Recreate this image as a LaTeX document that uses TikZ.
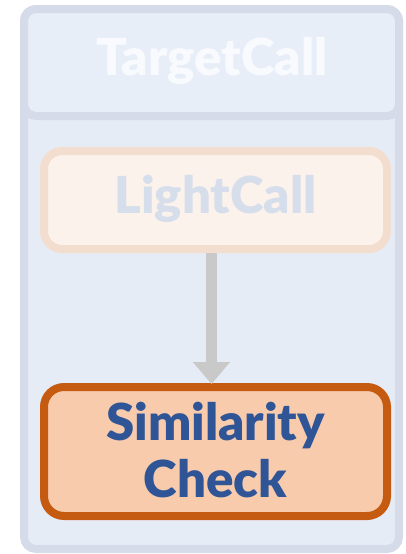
\documentclass[tikz,border=0pt]{standalone}
\usepackage{fontspec}
\setmainfont{Lato}[BoldFont={Lato Black}]
\usetikzlibrary{arrows.meta}
\definecolor{frameline}{HTML}{D5DBE8}
\definecolor{framefill}{HTML}{E6ECF6}
\definecolor{headfill}{HTML}{E8EEF8}
\definecolor{lightline}{HTML}{F3DDCE}
\definecolor{lightfill}{HTML}{FCF2EC}
\definecolor{lighttext}{HTML}{D6DEEB}
\definecolor{simline}{HTML}{C55A11}
\definecolor{simfill}{HTML}{F8CBAD}
\definecolor{simtext}{HTML}{2F5597}
\definecolor{arrowgray}{HTML}{C9C9C9}
\tikzset{
  boxlabel/.style={font=\fontsize{51}{57}\selectfont\bfseries, align=center},
}
\begin{document}
\begin{tikzpicture}[x=1pt,y=-1pt]
  \useasboundingbox (0,0) rectangle (406,554);
  % outer container
  \draw[frameline, fill=framefill, line width=8pt, rounded corners=12pt]
    (24,9) rectangle (399,549);
  % header band
  \draw[frameline, fill=headfill, line width=8pt, rounded corners=12pt]
    (24,9) rectangle (399,116);
  \node[boxlabel, text=white!70!headfill] (head) at (212,61) {TargetCall};
  % light call box
  \draw[lightline, fill=lightfill, line width=8pt, rounded corners=18pt]
    (44,151) rectangle (387,249);
  \node[boxlabel, text=lighttext] (light) at (215.5,199) {LightCall};
  \coordinate (lightbot) at (211.5,253);
  % similarity check box
  \draw[simline, fill=simfill, line width=8pt, rounded corners=20pt]
    (44,387) rectangle (387,516);
  \node[boxlabel, text=simtext] (sim) at (215.5,450) {Similarity\\Check};
  \coordinate (simtop) at (211.5,384);
  % connector
  \draw[arrowgray, line width=11pt, -{Triangle[length=22pt,width=36pt]}]
    (lightbot) -- (simtop);
\end{tikzpicture}
\end{document}
